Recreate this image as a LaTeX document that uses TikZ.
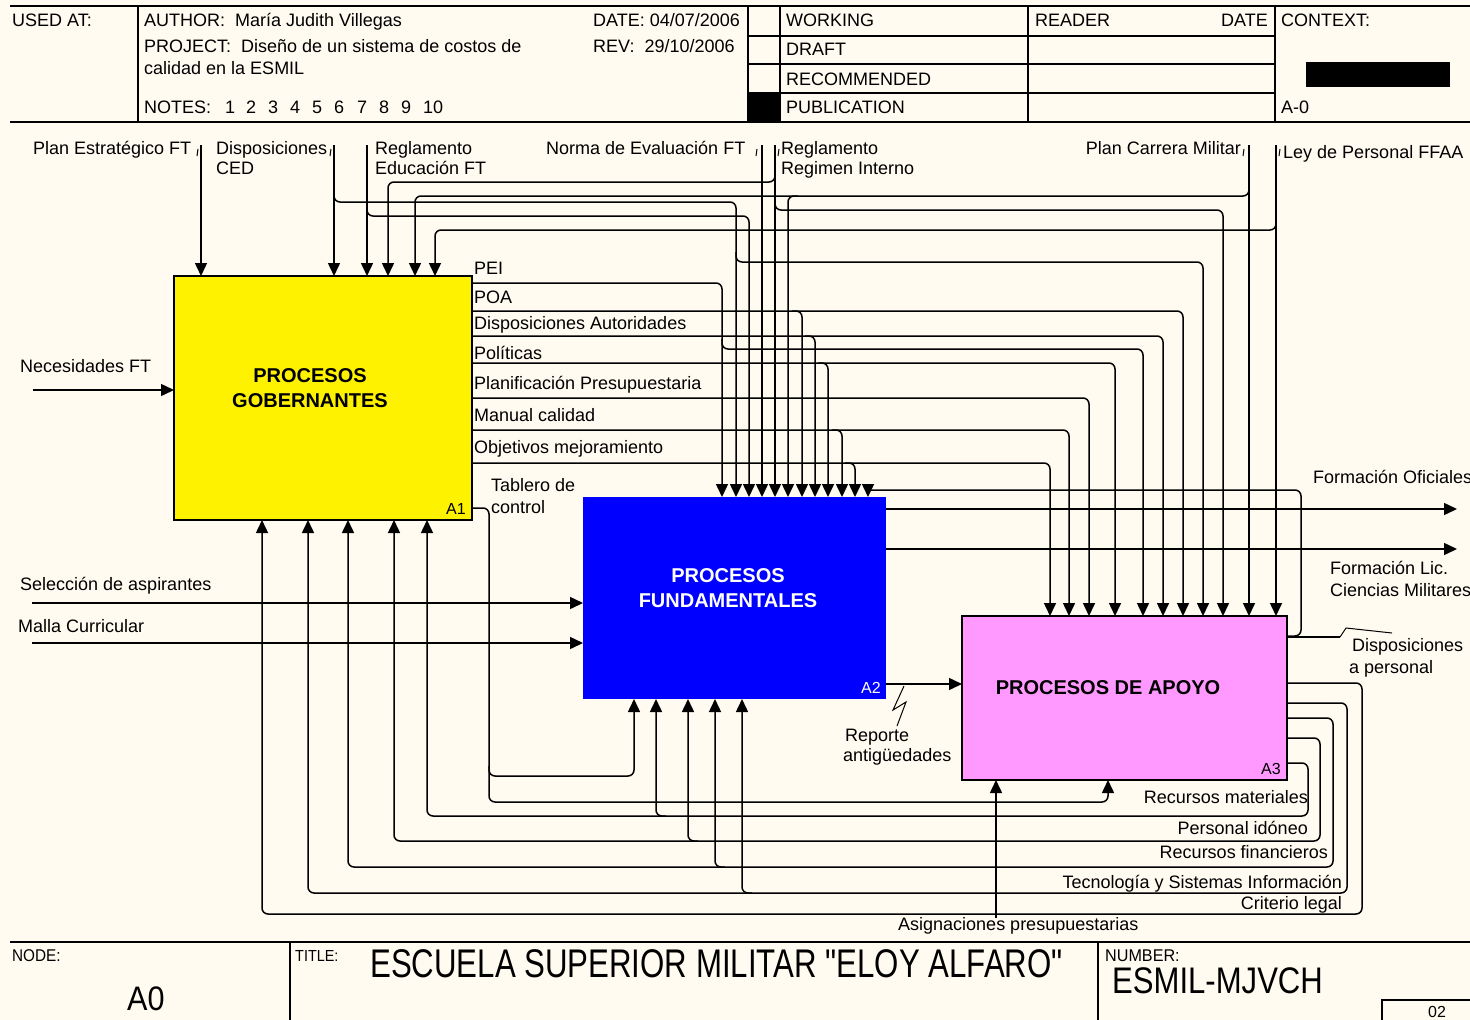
\documentclass[tikz,border=0pt]{standalone}
\usepackage{fontspec}
\usepackage{graphicx}
\setmainfont{Liberation Sans}
\newfontfamily\plainTitleFont{Liberation Sans}[Ligatures=TeXOff]
\usetikzlibrary{arrows.meta,calc}
\definecolor{bgcream}{RGB}{255,251,240}
\definecolor{pinkbox}{RGB}{255,153,255}
\newcommand{\myLbl}{\fontsize{18}{20}\selectfont}
\newcommand{\myBold}{\bfseries\fontsize{20}{25}\selectfont}
\begin{document}
\begin{tikzpicture}[x=1pt,y=-1pt,
  lbl/.style={inner sep=0,anchor=base west,font=\myLbl},
  lblr/.style={inner sep=0,anchor=base east,font=\myLbl},
  conn/.style={line width=1.5pt,rounded corners=6pt},
  arr/.style={conn,-{Triangle[length=13pt,width=12pt]}},
  box/.style={draw,line width=1.5pt,inner sep=0,outer sep=0},
  hdr/.style={line width=1.2pt},
  tickm/.style={line width=1pt},
  idl/.style={inner sep=0,anchor=base east,font=\fontsize{16}{16}\selectfont}]
\clip (0,0) rectangle (1470,1020);
\fill[bgcream] (0,0) rectangle (1470,1020);

% ---------- header frame ----------
\draw[line width=2pt] (10,6) -- (1470,6);
\draw[line width=2pt] (10,122) -- (1470,122);
\draw[hdr] (138,6) -- (138,122) (748,6) -- (748,122) (780,6) -- (780,122)
           (1028,6) -- (1028,122) (1275,6) -- (1275,122);
\draw[hdr] (748,36) -- (1275,36) (748,64) -- (1275,64) (748,93) -- (1275,93);
\fill (748,93) rectangle (780,122);
\fill (1306,62) rectangle (1450,87);

\node[lbl] (hUsed) at (12,26) {USED AT:};
\node[lbl] (hAuthor) at (144,26) {AUTHOR:\ \ María Judith Villegas};
\node[lbl] (hDate) at (593,26) {DATE: 04/07/2006};
\node[lbl] (hProj) at (144,52) {PROJECT:\ \ Diseño de un sistema de costos de};
\node[lbl] (hProj2) at (144,74) {calidad en la ESMIL};
\node[lbl] (hRev) at (593,52) {REV:\ \ 29/10/2006};
\node[lbl] (hNotes) at (144,113) {NOTES:};
\foreach \n/\xx in {1/225,2/246,3/268,4/290,5/312,6/334,7/357,8/379,9/401,10/423}
  \node[lbl] (hN\n) at (\xx,113) {\n};
\node[lbl] (hWork) at (786,26) {WORKING};
\node[lbl] (hDraft) at (786,55) {DRAFT};
\node[lbl] (hRec) at (786,85) {RECOMMENDED};
\node[lbl] (hPub) at (786,113) {PUBLICATION};
\node[lbl] (hReader) at (1035,26) {READER};
\node[lblr] (hRDate) at (1268,26) {DATE};
\node[lbl] (hCtx) at (1281,26) {CONTEXT:};
\node[lbl] (hA0) at (1281,113) {A-0};

% ---------- footer frame ----------
\draw[line width=2pt] (10,942) -- (1470,942);
\draw[hdr] (290,942) -- (290,1020) (1098,942) -- (1098,1020);
\draw[hdr] (1382,1020) -- (1382,1000) -- (1470,1000);
\node[inner sep=0,anchor=base west,font=\fontsize{17}{17}\selectfont] (fNode) at (12,961) {\scalebox{0.9}[1]{NODE:}};
\node[inner sep=0,anchor=base west,font=\fontsize{34}{34}\selectfont] (fA0) at (127,1010) {\scalebox{0.9}[1]{A0}};
\node[inner sep=0,anchor=base west,font=\fontsize{16}{16}\selectfont] (fTitle) at (295,961) {\scalebox{0.9}[1]{TITLE:}};
\node[inner sep=0,anchor=base west,font=\plainTitleFont\fontsize{40}{40}\selectfont] (fTitleT) at (370,977) {\scalebox{0.78}[1]{ESCUELA SUPERIOR MILITAR "ELOY ALFARO"}};
\node[inner sep=0,anchor=base west,font=\fontsize{17}{17}\selectfont] (fNum) at (1105,961) {\scalebox{0.95}[1]{NUMBER:}};
\node[inner sep=0,anchor=base west,font=\fontsize{37}{37}\selectfont] (fNumT) at (1112,993) {\scalebox{0.84}[1]{ESMIL-MJVCH}};
\node[inner sep=0,anchor=base west,font=\fontsize{16}{16}\selectfont] (fPage) at (1428,1017) {02};

% ---------- activity boxes ----------
\node[box,fill=yellow,minimum width=298pt,minimum height=244pt] (A1) at (323,398) {};
\node[box,draw=none,fill=blue,minimum width=303pt,minimum height=202pt] (A2) at (734.5,598) {};
\node[box,fill=pinkbox,minimum width=325pt,minimum height=164pt] (A3) at (1124.5,698) {};
\node[inner sep=0,font=\myBold,align=center] (A1t) at (310,388) {PROCESOS\\GOBERNANTES};
\node[inner sep=0,font=\myBold,align=center,text=white] (A2t) at (728,588) {PROCESOS\\FUNDAMENTALES};
\node[inner sep=0,font=\myBold] (A3t) at (1108,688) {PROCESOS DE APOYO};
\node[idl] (A1id) at (466,514) {A1};
\node[idl,text=white] (A2id) at (881,693) {A2};
\node[idl] (A3id) at (1281,774) {A3};

% ---------- labels ----------
\node[lbl] (lPEFT) at (33,154) {Plan Estratégico FT};
\node[lbl] (lDC1) at (216,154) {Disposiciones};
\node[lbl] (lDC2) at (216,174) {CED};
\node[lbl] (lRE1) at (375,154) {Reglamento};
\node[lbl] (lRE2) at (375,174) {Educación FT};
\node[lbl] (lNor) at (546,154) {Norma de Evaluación FT};
\node[lbl] (lRR1) at (781,154) {Reglamento};
\node[lbl] (lRR2) at (781,174) {Regimen Interno};
\node[lblr] (lPCM) at (1241,154) {Plan Carrera Militar};
\node[lbl] (lLey) at (1283,158) {Ley de Personal FFAA};
\node[lbl] (lNec) at (20,372) {Necesidades FT};
\node[lbl] (lPEI) at (474,274) {PEI};
\node[lbl] (lPOA) at (474,303) {POA};
\node[lbl] (lDA) at (474,329) {Disposiciones Autoridades};
\node[lbl] (lPol) at (474,359) {Políticas};
\node[lbl] (lPla) at (474,389) {Planificación Presupuestaria};
\node[lbl] (lMan) at (474,421) {Manual calidad};
\node[lbl] (lObj) at (474,453) {Objetivos mejoramiento};
\node[lbl] (lTab1) at (491,491) {Tablero de};
\node[lbl] (lTab2) at (491,513) {control};
\node[lbl] (lFO) at (1313,483) {Formación Oficiales};
\node[lbl] (lFL1) at (1330,574) {Formación Lic.};
\node[lbl] (lFL2) at (1330,596) {Ciencias Militares};
\node[lbl] (lSel) at (20,590) {Selección de aspirantes};
\node[lbl] (lMal) at (18,632) {Malla Curricular};
\node[lbl] (lDP1) at (1352,651) {Disposiciones};
\node[lbl] (lDP2) at (1349,673) {a personal};
\node[lbl] (lRep1) at (845,741) {Reporte};
\node[lbl] (lRep2) at (843,761) {antigüedades};
\node[lblr] (lRM) at (1308,803) {Recursos materiales};
\node[lblr] (lPI) at (1308,834) {Personal idóneo};
\node[lblr] (lRF) at (1328,858) {Recursos financieros};
\node[lblr] (lTec) at (1342,888) {Tecnología y Sistemas Información};
\node[lblr] (lCL) at (1342,909) {Criterio legal};
\node[lbl] (lAsig) at (898,930) {Asignaciones presupuestarias};

% small label ticks
\draw[tickm] (198,149) -- (197,156);
\draw[tickm] (331,149) -- (330,156);
\draw[tickm] (757,149) -- (756,156);
\draw[tickm] (779,149) -- (778,156);
\draw[tickm] (1244,149) -- (1243,156);
\draw[tickm] (1280,149) -- (1279,156);

% ---------- free ends ----------
\coordinate (sPEFT) at (201,145);
\coordinate (sDC) at (334,145);
\coordinate (sRE) at (367,145);
\coordinate (sNor) at (762,145);
\coordinate (sRR) at (775,145);
\coordinate (sPCM) at (1249,145);
\coordinate (sLey) at (1276,145);
\coordinate (sNec) at (33,390);
\coordinate (sSel) at (32,603);
\coordinate (sMal) at (32,643);
\coordinate (eFO) at (1457,509);
\coordinate (eFL) at (1457,549);
\coordinate (sAsig) at (996,918);
\coordinate (eDP) at (1340,637);

% ---------- controls of A1 ----------
\draw[arr] (sPEFT) -- (sPEFT |- A1.north);
\draw[arr] (sDC) -- (sDC |- A1.north);
\draw[arr] (sRE) -- (sRE |- A1.north);
\draw[arr] (775,172) -- (775,182) -- (388,182) -- (388,0 |- A1.north);
\draw[arr] (1249,186) -- (1249,196) -- (415,196) -- (415,0 |- A1.north);
\draw[arr] (1276,220) -- (1276,230) -- (435,230) -- (435,0 |- A1.north);

% ---------- controls of A2 ----------
\draw[arr] (A1.east |- 0,283) -- (722,283) -- (722,0 |- A2.north);
\draw[arr] (334,192) -- (334,202) -- (736,202) -- (736,0 |- A2.north);
\draw[arr] (367,206) -- (367,216) -- (749,216) -- (749,0 |- A2.north);
\draw[arr] (sNor) -- (sNor |- A2.north);
\draw[arr] (sRR) -- (sRR |- A2.north);
\draw[arr] (798,196) -- (788,196) -- (788,0 |- A2.north);
\draw[arr] (792,311) -- (802,311) -- (802,0 |- A2.north);
\draw[arr] (805,336) -- (815,336) -- (815,0 |- A2.north);
\draw[arr] (818,363) -- (828,363) -- (828,0 |- A2.north);
\draw[arr] (832,430) -- (842,430) -- (842,0 |- A2.north);
\draw[arr] (845,463) -- (855,463) -- (855,0 |- A2.north);
\draw[conn] (A3.east |- 0,636) -- (1301,636) -- (1301,490) -- (868,490);
\draw[arr] (868,484) -- (868,0 |- A2.north);

% ---------- controls of A3 ----------
\draw[arr] (736,252) -- (736,262) -- (1203,262) -- (1203,0 |- A3.north);
\draw[arr] (775,200) -- (775,210) -- (1223,210) -- (1223,0 |- A3.north);
\draw[arr] (sPCM) -- (sPCM |- A3.north);
\draw[arr] (sLey) -- (sLey |- A3.north);
\draw[arr] (722,339) -- (722,349) -- (1143,349) -- (1143,0 |- A3.north);
\draw[arr] (A1.east |- 0,311) -- (1183,311) -- (1183,0 |- A3.north);
\draw[arr] (A1.east |- 0,336) -- (1163,336) -- (1163,0 |- A3.north);
\draw[arr] (A1.east |- 0,363) -- (1115,363) -- (1115,0 |- A3.north);
\draw[arr] (A1.east |- 0,398) -- (1089,398) -- (1089,0 |- A3.north);
\draw[arr] (A1.east |- 0,430) -- (1069,430) -- (1069,0 |- A3.north);
\draw[arr] (A1.east |- 0,463) -- (1050,463) -- (1050,0 |- A3.north);

% ---------- inputs ----------
\draw[arr] (sNec) -- (sNec -| A1.west);
\draw[arr] (sSel) -- (sSel -| A2.west);
\draw[arr] (sMal) -- (sMal -| A2.west);

% ---------- outputs of A2 ----------
\draw[arr] (A2.east |- eFO) -- (eFO);
\draw[arr] (A2.east |- eFL) -- (eFL);
\draw[arr] (A2.east |- 0,684) -- (A3.west |- 0,684);
\draw[line width=1pt] (904,686) -- (893,710) -- (906,702) -- (897,726);

% ---------- Disposiciones a personal (out) ----------
\draw[conn] (A3.east |- eDP) -- (eDP);
\draw[line width=1pt] (1340,637) -- (1346,628) -- (1392,633);

% ---------- Tablero de control ----------
\draw[arr] (A1.east |- 0,508) -- (489,508) -- (489,802) -- (1108,802) -- (1108,0 |- A3.south);
\draw[arr] (489,766) -- (489,776) -- (634,776) -- (634,0 |- A2.south);

% ---------- mechanisms from A3 outputs ----------
\draw[arr] (A3.east |- 0,763) -- (1308,763) -- (1308,816) -- (427,816) -- (427,0 |- A1.south);
\draw[arr] (666,816) -- (656,816) -- (656,0 |- A2.south);
\draw[arr] (A3.east |- 0,738) -- (1320,738) -- (1320,841) -- (394,841) -- (394,0 |- A1.south);
\draw[arr] (698,841) -- (688,841) -- (688,0 |- A2.south);
\draw[arr] (A3.east |- 0,718) -- (1333,718) -- (1333,867) -- (348,867) -- (348,0 |- A1.south);
\draw[arr] (725,867) -- (715,867) -- (715,0 |- A2.south);
\draw[arr] (A3.east |- 0,703) -- (1347,703) -- (1347,893) -- (308,893) -- (308,0 |- A1.south);
\draw[arr] (752,893) -- (742,893) -- (742,0 |- A2.south);
\draw[arr] (A3.east |- 0,683) -- (1362,683) -- (1362,914) -- (262,914) -- (262,0 |- A1.south);
\draw[arr] (sAsig) -- (sAsig |- A3.south);
\end{tikzpicture}
\end{document}
